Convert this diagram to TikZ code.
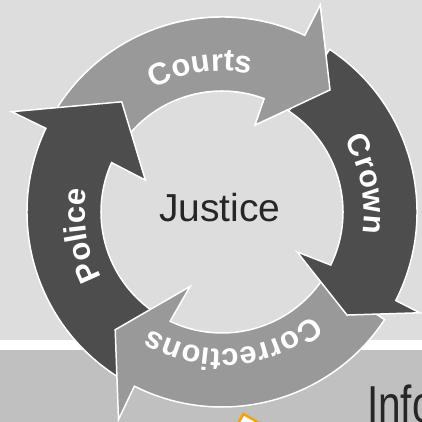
\documentclass[tikz,border=0pt]{standalone}
\usepackage{fontspec}
\setmainfont{Liberation Sans}
\usetikzlibrary{decorations.text}
\definecolor{bgtop}{HTML}{DDDDDD}
\definecolor{bgbot}{HTML}{C0C0C0}
\definecolor{midgray}{HTML}{999999}
\definecolor{darkgray}{HTML}{4D4D4D}
\definecolor{txtdark}{HTML}{262626}
\definecolor{orng}{HTML}{EFA20C}
\newcommand{\ringlbl}{\color{white}\fontsize{31}{31}\selectfont\bfseries}
\begin{document}
\begin{tikzpicture}[x=1pt,y=1pt,
  arrowshape/.style={draw=white, line width=1.5pt, line join=miter},
  ringtext/.style={decorate, decoration={text along path, text align=center, text={|\ringlbl|#1}}}]
\useasboundingbox (0,0) rectangle (422,422);
\clip (0,0) rectangle (422,422);
% background bands
\fill[bgtop] (0,82) rectangle (422,422);
\fill[white] (0,72) rectangle (422,82);
\fill[bgbot] (0,0) rectangle (422,72);
% bottom right title (cut off)
\node[anchor=base west, inner sep=0, text=txtdark, font=\fontsize{52}{52}\selectfont] (info) at (366.9,-0.2) {\scalebox{0.78}[1]{Info}};
% orange marker
\draw[orng, line width=2.5pt, fill=white, line join=miter] (236.6,-4) -- (243.5,8) -- (264.5,-4);
\begin{scope}[shift={(222,210)}]
  % Courts
  \filldraw[arrowshape, fill=midgray] (150:121) -- (150:195) arc[start angle=150, end angle=64.9, radius=195] -- (64.6:229) -- (48.5:163) -- (69.2:93) -- (69.6:121) arc[start angle=69.6, end angle=150, radius=121] -- cycle;
  % Police
  \filldraw[arrowshape, fill=darkgray] (240:121) -- (240:195) arc[start angle=240, end angle=154.6, radius=195] -- (154.5:233) -- (132.3:149) -- (157.4:83) -- (155.9:121) arc[start angle=155.9, end angle=240, radius=121] -- cycle;
  % Corrections
  \filldraw[arrowshape, fill=midgray] (-33.5:121) -- (-33.5:195) arc[start angle=-33.5, end angle=-116.7, radius=195] -- (-116.5:232) -- (-132.2:159) -- (-113.2:81) -- (-115.4:121) arc[start angle=-115.4, end angle=-33.5, radius=121] -- cycle;
  % Crown
  \filldraw[arrowshape, fill=darkgray] (56.5:121) -- (56.5:195) arc[start angle=56.5, end angle=-27, radius=195] -- (-27:222) -- (-39.5:162) -- (-28:85) -- (-26:121) arc[start angle=-26, end angle=56.5, radius=121] -- cycle;
  % Courts head again, on top of Crown's tail
  \begin{scope}
    \clip (0,0) -- (20:330) arc[start angle=20, end angle=110, radius=330] -- cycle;
    \filldraw[arrowshape, fill=midgray] (150:121) -- (150:195) arc[start angle=150, end angle=64.9, radius=195] -- (64.6:229) -- (48.5:163) -- (69.2:93) -- (69.6:121) arc[start angle=69.6, end angle=150, radius=121] -- cycle;
  \end{scope}
  % labels
  \path[ringtext=Courts] (138.5:141) arc[start angle=138.5, end angle=58.5, radius=141];
  \path[ringtext=Crown] (51:142) arc[start angle=51, end angle=-29, radius=142];
  \path[ringtext=Corrections] (-35:137) arc[start angle=-35, end angle=-135, radius=137];
  \path[ringtext=Police] (229.5:137) arc[start angle=229.5, end angle=149.5, radius=137];
  \node[anchor=base, inner sep=0, text=txtdark, font=\fontsize{39}{39}\selectfont] (justice) at (-2,-10) {Justice};
\end{scope}
\end{tikzpicture}
\end{document}
